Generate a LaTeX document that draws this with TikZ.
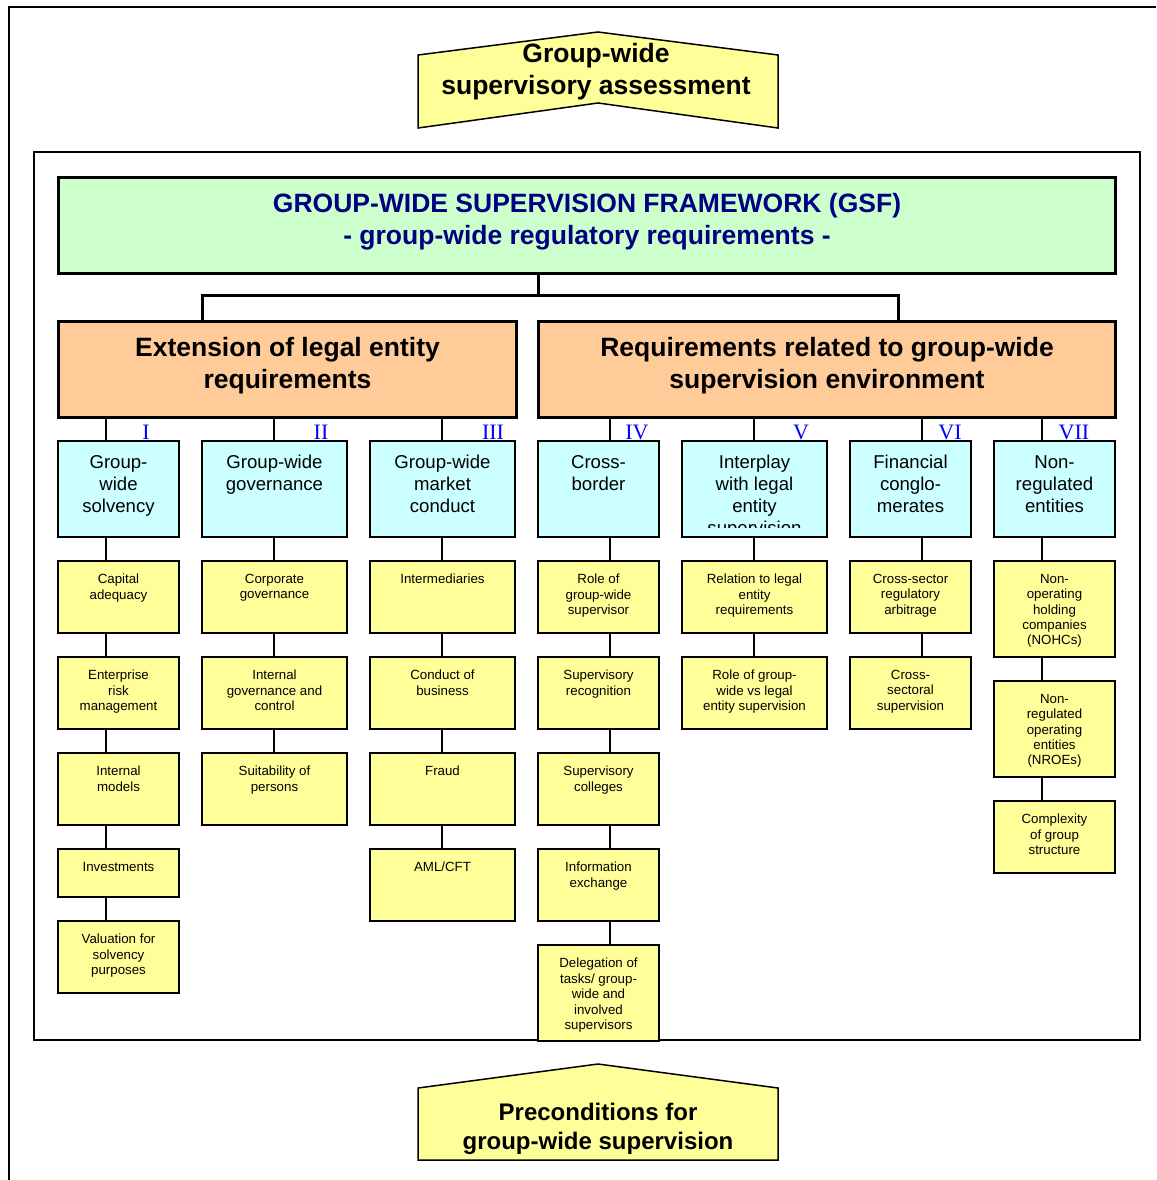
\documentclass[tikz,border=0pt]{standalone}
\usepackage{fontspec}
\setmainfont{Liberation Sans}
\newfontfamily\numfont{Liberation Serif}
\usetikzlibrary{positioning}
\usetikzlibrary{backgrounds}
\definecolor{gsfgreen}{HTML}{CCFFCC}
\definecolor{legalorange}{HTML}{FFCC99}
\definecolor{topiccyan}{HTML}{CCFFFF}
\definecolor{itemyellow}{HTML}{FFFF99}
\definecolor{titlenavy}{HTML}{000080}
\definecolor{numblue}{HTML}{0000FF}

\begin{document}
\begin{tikzpicture}[x=1pt,y=-1pt,
    big text/.style={align=center,font=\fontsize{26.5}{32}\selectfont\bfseries},
    head node/.style={draw,line width=3pt,inner sep=0pt,anchor=north west,big text,text depth=13.5pt},
    topic node/.style={draw,line width=2pt,fill=topiccyan,inner sep=0pt,anchor=north west},
    item node/.style={draw,line width=2pt,fill=itemyellow,inner sep=0pt,anchor=north west},
    topic text/.style={anchor=north,align=center,inner sep=0pt,font=\fontsize{18.6}{22}\selectfont},
    item text/.style={anchor=north,align=center,inner sep=0pt,font=\fontsize{13.3}{15.4}\selectfont},
    num node/.style={anchor=base,text=numblue,inner sep=0pt,font=\fontsize{22}{22}\numfont},
    arrow shape/.style={draw,line width=1.5pt,fill=itemyellow},
    tree/.style={line width=3pt},
    link/.style={line width=2pt},
    frame/.style={line width=1.5pt}]

  \useasboundingbox (0,0) rectangle (1156,1180);

  % page frame and inner frame
  \draw[frame] (9,1180) -- (9,7) -- (1156,7);
  \draw[frame] (34,152) rectangle (1140,1040);

  % assessment and preconditions
  \draw[arrow shape] (418,55) -- (598,32) -- (778,55) -- (778,128) -- (598,103) -- (418,128) -- cycle;
  \node[big text] (assess) at (596,72) {Group-wide\\supervisory assessment};
  \draw[arrow shape] (418,1088) -- (598,1064) -- (778,1088) -- (778,1160) -- (418,1160) -- cycle;
  \node[big text,font=\fontsize{24}{29}\selectfont\bfseries] (precond) at (598,1129)
    {Preconditions for\\group-wide supervision};

  % framework and the two branches
  \node[head node,fill=gsfgreen,text=titlenavy,minimum width=1057pt,minimum height=96pt] (gsf) at (57,176)
    {GROUP-WIDE SUPERVISION FRAMEWORK (GSF)\\- group-wide regulatory requirements -};
  \node[head node,fill=legalorange,minimum width=458pt,minimum height=96pt] (ext) at (57,320)
    {Extension of legal entity\\requirements};
  \node[head node,fill=legalorange,minimum width=577pt,minimum height=96pt] (req) at (537,320)
    {Requirements related to group-wide\\supervision environment};

  \coordinate (jm) at (538,295);
  \coordinate (jl) at (202,295);
  \coordinate (jr) at (898,295);
  \draw[tree] (gsf.south -| jm) -- (jm);
  \draw[tree] (ext.north -| jl) -- (jl) -- (jr) -- (req.north -| jr);

  % topics
  \foreach \id/\lx/\w/\lnx/\rn/\rnx/\txt in {
      solv/57/121pt/106/I/146/{Group-\\wide\\solvency},
      gov/201/145pt/274/II/321/{Group-wide\\governance},
      mkt/369/145pt/442/III/493/{Group-wide\\market\\conduct},
      xb/537/121pt/610/IV/637/{Cross-\\border},
      inter/681/145pt/754/V/801/{Interplay\\with legal\\entity\\supervision},
      fc/849/121pt/922/VI/950/{Financial\\conglo-\\merates},
      nonreg/993/121pt/1042/VII/1074/{Non-\\regulated\\entities}}
  {
    \node[topic node,minimum width=\w,minimum height=96pt] (\id) at (\lx,440) {};
    \begin{scope}
      \clip (\id.north west) rectangle ([yshift=11pt]\id.south east);
      \node[topic text] (\id-t) at ([yshift=-15pt]\id.north) {\txt};
    \end{scope}
    \coordinate (\id-l) at (\lnx,0);
    \node[num node] (\id-n) at (\rnx,439) {\rn};
  }

  % items
  \foreach \id/\k/\lx/\w/\top/\h/\txt in {
      solv/1/57/121pt/560/72pt/{Capital\\adequacy},
      solv/2/57/121pt/656/72pt/{Enterprise\\risk\\management},
      solv/3/57/121pt/752/72pt/{Internal\\models},
      solv/4/57/121pt/848/48pt/{Investments},
      solv/5/57/121pt/920/72pt/{Valuation for\\solvency\\purposes},
      gov/1/201/145pt/560/72pt/{Corporate\\governance},
      gov/2/201/145pt/656/72pt/{Internal\\governance and\\control},
      gov/3/201/145pt/752/72pt/{Suitability of\\persons},
      mkt/1/369/145pt/560/72pt/{Intermediaries},
      mkt/2/369/145pt/656/72pt/{Conduct of\\business},
      mkt/3/369/145pt/752/72pt/{Fraud},
      mkt/4/369/145pt/848/72pt/{AML/CFT},
      xb/1/537/121pt/560/72pt/{Role of\\group-wide\\supervisor},
      xb/2/537/121pt/656/72pt/{Supervisory\\recognition},
      xb/3/537/121pt/752/72pt/{Supervisory\\colleges},
      xb/4/537/121pt/848/72pt/{Information\\exchange},
      xb/5/537/121pt/944/96pt/{Delegation of\\tasks/ group-\\wide and\\involved\\supervisors},
      inter/1/681/145pt/560/72pt/{Relation to legal\\entity\\requirements},
      inter/2/681/145pt/656/72pt/{Role of group-\\wide vs legal\\entity supervision},
      fc/1/849/121pt/560/72pt/{Cross-sector\\regulatory\\arbitrage},
      fc/2/849/121pt/656/72pt/{Cross-\\sectoral\\supervision},
      nonreg/1/993/121pt/560/96pt/{Non-\\operating\\holding\\companies\\(NOHCs)},
      nonreg/2/993/121pt/680/96pt/{Non-\\regulated\\operating\\entities\\(NROEs)},
      nonreg/3/993/121pt/800/72pt/{Complexity\\of group\\structure}}
  {
    \node[item node,minimum width=\w,minimum height=\h] (\id-\k) at (\lx,\top) {};
    \node[item text] (\id-\k-t) at ([yshift=-14pt]\id-\k.north) {\txt};
  }

  % column links behind the boxes
  \begin{scope}[on background layer]
    \draw[link] (solv-l |- ext.south) -- (solv-l |- solv-5.north);
    \draw[link] (gov-l |- ext.south) -- (gov-l |- gov-3.north);
    \draw[link] (mkt-l |- ext.south) -- (mkt-l |- mkt-4.north);
    \draw[link] (xb-l |- req.south) -- (xb-l |- xb-5.north);
    \draw[link] (inter-l |- req.south) -- (inter-l |- inter-2.north);
    \draw[link] (fc-l |- req.south) -- (fc-l |- fc-2.north);
    \draw[link] (nonreg-l |- req.south) -- (nonreg-l |- nonreg-3.north);
  \end{scope}
\end{tikzpicture}
\end{document}
